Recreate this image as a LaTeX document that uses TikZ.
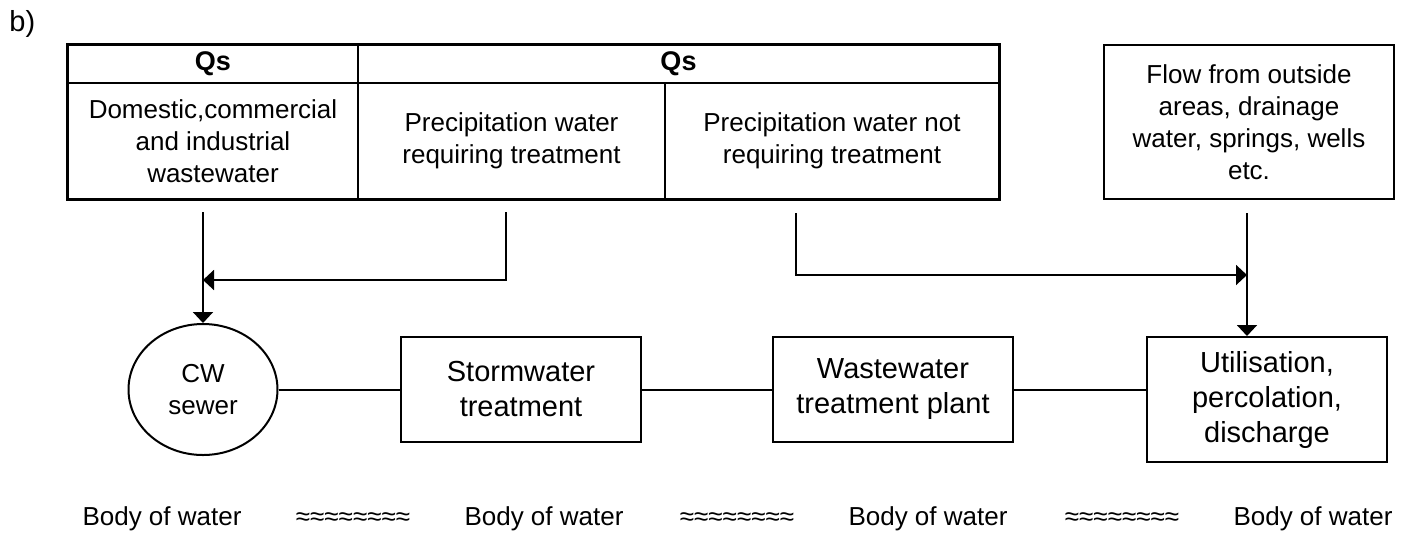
\documentclass[tikz,border=0pt]{standalone}
\usepackage{fontspec}
\setmainfont{Liberation Sans}
\usetikzlibrary{arrows.meta,shapes.geometric}

\tikzset{
  cell/.style={draw, line width=0.6pt, inner sep=0pt, align=center, font=\fontsize{13}{16}\selectfont},
  head/.style={cell, font=\fontsize{13.5}{16}\selectfont\bfseries, minimum height=19pt},
  box/.style={draw, line width=1pt, inner sep=0pt, align=center, font=\fontsize{14.5}{17.5}\selectfont},
  link/.style={line width=1pt},
  feed/.style={line width=1pt, -{Triangle[length=5.5pt,width=10pt]}},
  lbl/.style={inner sep=0pt, anchor=base, font=\fontsize{13}{16}\selectfont},
}

\begin{document}
\begin{tikzpicture}[x=0.5pt,y=0.5pt,yscale=-1,xscale=1]
\useasboundingbox (0,0) rectangle (1410,532);

% Text Node
\node[inner sep=0pt, anchor=north west, font=\fontsize{14.5}{17}\selectfont] (tag) at (9,10) {b)};

%Table: header row
\node[head, minimum width=145pt] (qsA) at (213,64) {Qs};
\node[head, minimum width=320.5pt] (qsB) at (678.5,64) {Qs};
%Table: lower row
\node[cell, minimum width=145pt, minimum height=58pt] (dom) at (213,141) {Domestic,commercial\\and industrial\\wastewater};
\node[cell, minimum width=153.5pt, minimum height=58pt] (preq) at (511.5,141) {Precipitation water\\requiring treatment};
\node[cell, minimum width=167pt, minimum height=58pt] (pnot) at (832,141) {Precipitation water not\\requiring treatment};
%Table frame
\draw[line width=1.1pt] (qsA.north west) rectangle (pnot.south east);

%Shape: outside flow
\node[box, font=\fontsize{13}{16}\selectfont, minimum width=145pt, minimum height=77pt] (flow) at (1249,122) {Flow from outside\\areas, drainage\\water, springs, wells\\etc.};

%Shape: Ellipse
\node[draw, line width=1pt, ellipse, inner sep=0pt, minimum width=74.5pt, minimum height=65.5pt, align=center, font=\fontsize{13}{16}\selectfont] (sewer) at (203,389.5) {CW\\sewer};
%Shapes: treatment chain
\node[box, minimum width=120pt, minimum height=52.5pt] (storm) at (521,389.5) {Stormwater\\treatment};
\node[box, minimum width=120pt, minimum height=52.5pt] (wwtp) at (893,389.5) {Wastewater\\treatment plant};
\node[box, minimum width=120pt, minimum height=62.5pt] (util) at (1267,399.5) {Utilisation,\\percolation,\\discharge};

%Straight Lines
\draw[link] (sewer.east) -- (storm.west);
\draw[link] (storm.east) -- (wwtp.west);
\draw[link] (wwtp.east) -- (wwtp.east -| util.west);

%Arrows
\coordinate (dsrc) at (203,212);
\coordinate (psrc) at (506,212);
\coordinate (pjoin) at (203,280);
\coordinate (nsrc) at (796,213);
\coordinate (njoin) at (1247,275);
\coordinate (fsrc) at (1247,213);
\draw[feed] (dsrc) -- (sewer.north);
\draw[feed] (psrc) |- (pjoin);
\draw[feed] (nsrc) |- (njoin);
\draw[feed] (fsrc) -- (fsrc |- util.north);

% Text Node
\node[lbl] (bw1) at (162,525) {Body of water};
\node[lbl] (wv1) at (353,525) {≈≈≈≈≈≈≈≈};
\node[lbl] (bw2) at (544,525) {Body of water};
\node[lbl] (wv2) at (737,525) {≈≈≈≈≈≈≈≈};
\node[lbl] (bw3) at (928,525) {Body of water};
\node[lbl] (wv3) at (1122,525) {≈≈≈≈≈≈≈≈};
\node[lbl] (bw4) at (1313,525) {Body of water};

\end{tikzpicture}
\end{document}
